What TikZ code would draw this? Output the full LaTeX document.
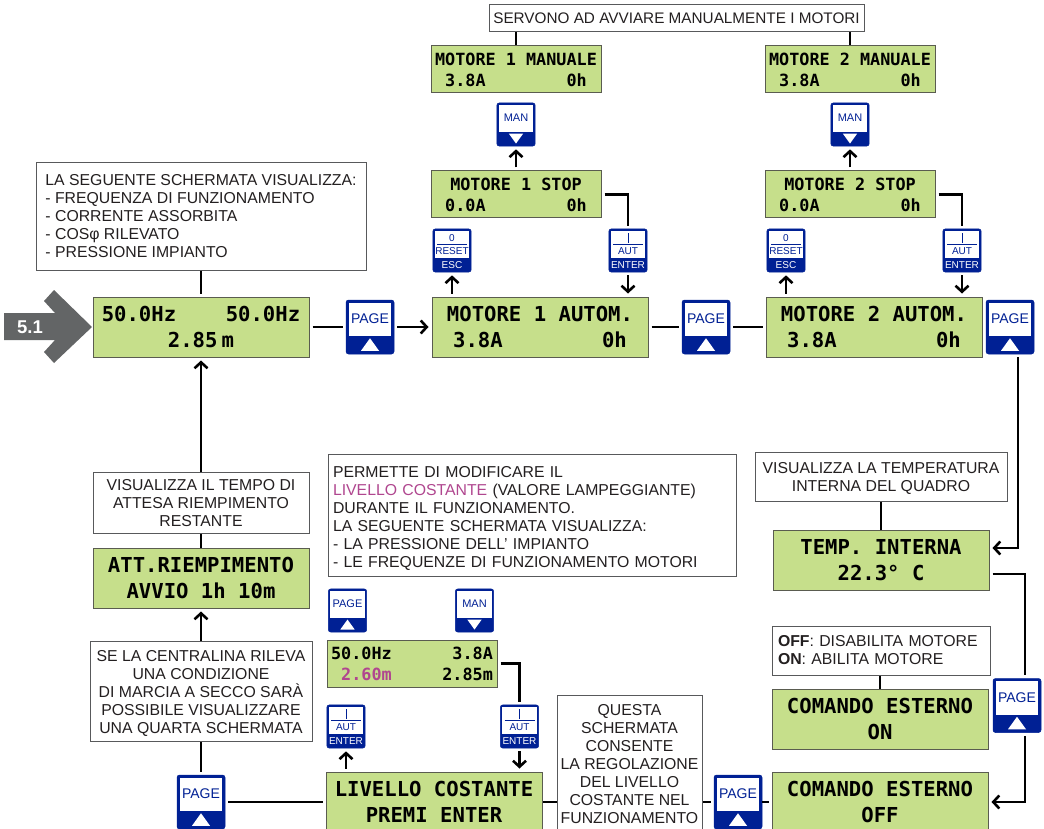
\documentclass[tikz,border=0pt]{standalone}
\usepackage{fontspec}
\setmainfont{Liberation Sans}
\newfontfamily\lcdfont{DejaVu Sans Mono}
\usetikzlibrary{arrows.meta,calc,positioning}
\definecolor{lcdgreen}{HTML}{C6DF8B}
\definecolor{lcdedge}{HTML}{5A5C50}
\definecolor{keyblue}{HTML}{002094}
\definecolor{boxedge}{HTML}{58595B}
\definecolor{notecol}{HTML}{231F20}
\definecolor{levelcol}{HTML}{B0468F}
\definecolor{entrygrey}{HTML}{636566}
\tikzset{
	>={Straight Barb[length=6pt,width=13pt]},
	lcdbox/.style={draw=lcdedge,line width=1pt,fill=lcdgreen,inner sep=0pt,align=center,text=black},
	lcdlarge/.style={lcdbox,minimum width=216pt,minimum height=60pt,font=\lcdfont\bfseries\fontsize{20.6}{26}\selectfont},
	lcdsmall/.style={lcdbox,minimum width=170pt,minimum height=47pt,font=\lcdfont\bfseries\fontsize{16.8}{21}\selectfont},
	notebox/.style={draw=boxedge,line width=1pt,fill=white,inner sep=0pt,text=notecol,font=\fontsize{15.8}{18}\selectfont},
	keybody/.style={draw=keyblue,fill=keyblue,rounded corners=2.5pt,inner sep=0pt,line width=.5pt},
	link/.style={line width=2.6pt,shorten <=3pt,shorten >=3pt},
	keytext/.style={inner sep=0pt,text=keyblue},
}
% key: name, centre, scale, then what is printed on it
\newcommand{\keyface}[3]{
	\node[keybody,minimum width=#3*48pt,minimum height=#3*54pt] (#1) at (#2) {};
	\fill[white] ($(#1.north west)+(#3*3pt,-#3*3pt)$) rectangle ($(#1.east)+(-#3*3pt,#3*-9pt)$);
}
\newcommand{\keyup}[5]{
	\keyface{#1}{#2}{#3}
	\node[keytext,font=\fontsize{#5}{#5}\selectfont] (#1lab) at ($(#1)+(0,#3*8pt)$) {#4};
	\fill[white] ($(#1.south)+(-#3*9pt,#3*3.500pt)$) -- ($(#1.south)+(#3*9pt,#3*3.500pt)$) -- ($(#1.south)+(0,#3*16pt)$) -- cycle;
}
\newcommand{\keydown}[5]{
	\keyface{#1}{#2}{#3}
	\node[keytext,font=\fontsize{#5}{#5}\selectfont] (#1lab) at ($(#1)+(0,#3*8pt)$) {#4};
	\fill[white] ($(#1.south)+(-#3*9pt,#3*16pt)$) -- ($(#1.south)+(#3*9pt,#3*16pt)$) -- ($(#1.south)+(0,#3*3.500pt)$) -- cycle;
}
\newcommand{\keybar}[5]{
	\keyface{#1}{#2}{.8}
	\draw[keyblue,line width=.7pt] ($(#1)+(-15pt,6.500pt)$) -- ($(#1)+(15pt,6.500pt)$);
	\node[keytext,font=\fontsize{10}{10}\selectfont] (#1top) at ($(#1)+(0,12.500pt)$) {#3};
	\node[keytext,font=\fontsize{10}{10}\selectfont] (#1mid) at ($(#1)+(0,-1pt)$) {#4};
	\node[keytext,text=white,font=\fontsize{10}{10}\selectfont] (#1bot) at ($(#1)+(0,-15pt)$) {#5};
}
\begin{document}
\begin{tikzpicture}[x=1pt,y=-1pt]
	\clip (0,0) rectangle (1044,829);
	% entry arrow
	\fill[entrygrey] (4,313) -- (55,313) -- (44,301) -- (54,290) -- (92,327) -- (54,363) -- (44,352) -- (55,340) -- (4,340) -- cycle;
	\node[text=white,font=\bfseries\fontsize{18.500}{18.500}\selectfont,inner sep=0pt] (entry) at (30,327) {5.1};
	% displays
	\node[lcdlarge] (main) at (201,327) {50.0Hz~~~~50.0Hz\\2.85\hspace{.2em}m};
	\node[lcdlarge] (autoA) at (540,327) {MOTORE 1 AUTOM.\\3.8A~~~~~~~~0h};
	\node[lcdlarge] (autoB) at (874,327) {MOTORE 2 AUTOM.\\3.8A~~~~~~~~0h};
	\node[lcdsmall] (stopA) at (516,194.500) {MOTORE 1 STOP\\0.0A~~~~~~~~0h};
	\node[lcdsmall] (stopB) at (850,194.500) {MOTORE 2 STOP\\0.0A~~~~~~~~0h};
	\node[lcdsmall] (manA) at (516,69.500) {MOTORE 1 MANUALE\\3.8A~~~~~~~~0h};
	\node[lcdsmall] (manB) at (850,69.500) {MOTORE 2 MANUALE\\3.8A~~~~~~~~0h};
	\node[lcdlarge] (temp) at (881,560.500) {TEMP. INTERNA\\22.3° C};
	\node[lcdlarge] (extOn) at (880,719) {COMANDO ESTERNO\\ON};
	\node[lcdlarge] (extOff) at (880,802) {COMANDO ESTERNO\\OFF};
	\node[lcdlarge] (level) at (434,802) {LIVELLO COSTANTE\\PREMI ENTER};
	\node[lcdlarge] (wait) at (201,578) {ATT.RIEMPIMENTO\\AVVIO 1h 10m};
	\node[lcdsmall] (live) at (412,663.500) {50.0Hz~~~~~~3.8A\\{\color{levelcol}~2.60m}~~~~~2.85m};
	% notes
	\node[notebox,minimum width=330pt,minimum height=107pt,align=left] (noteMain) at (201,216.500) {LA SEGUENTE SCHERMATA VISUALIZZA:\\- FREQUENZA DI FUNZIONAMENTO\\- CORRENTE ASSORBITA\\- COSφ RILEVATO\\- PRESSIONE IMPIANTO};
	\node[notebox,minimum width=375pt,minimum height=27pt,font=\fontsize{15.300}{18}\selectfont] (noteMan) at (676.500,18.500) {SERVONO AD AVVIARE MANUALMENTE I MOTORI};
	\node[notebox,minimum width=252pt,minimum height=49pt,align=center] (noteTemp) at (881,476.500) {\rule{0pt}{15pt}VISUALIZZA LA TEMPERATURA\\INTERNA DEL QUADRO};
	\node[notebox,minimum height=49pt,align=left,text width=206pt,inner xsep=6pt] (noteExt) at (881,650.500) {\textbf{OFF}: DISABILITA MOTORE\\\textbf{ON}: ABILITA MOTORE};
	\node[notebox,minimum height=122pt,align=left,text width=398pt,inner xsep=5pt] (noteLevel) at (532,515) {\rule{0pt}{18pt}PERMETTE DI MODIFICARE IL\\{\color{levelcol}LIVELLO COSTANTE} (VALORE LAMPEGGIANTE)\\DURANTE IL FUNZIONAMENTO.\\LA SEGUENTE SCHERMATA VISUALIZZA:\\- LA PRESSIONE DELL’ IMPIANTO\\- LE FREQUENZE DI FUNZIONAMENTO MOTORI};
	\node[notebox,minimum width=145pt,inner ysep=9pt,align=center,anchor=north] (noteAdj) at (629.500,695) {QUESTA\\SCHERMATA\\CONSENTE\\LA REGOLAZIONE\\DEL LIVELLO\\COSTANTE NEL\\FUNZIONAMENTO};
	\node[notebox,minimum width=222pt,minimum height=100pt,align=center] (noteDry) at (201,691) {\rule{0pt}{15pt}SE LA CENTRALINA RILEVA\\UNA CONDIZIONE\\DI MARCIA A SECCO SARÀ\\POSSIBILE VISUALIZZARE\\UNA QUARTA SCHERMATA};
	\node[notebox,minimum width=216pt,minimum height=61pt,align=center] (noteWait) at (201,503) {VISUALIZZA IL TEMPO DI\\ATTESA RIEMPIMENTO\\RESTANTE};
	% keys
	\keyup{pageA}{370,327}{1}{PAGE}{14}
	\keyup{pageB}{706,327}{1}{PAGE}{14}
	\keyup{pageC}{1010,327}{1}{PAGE}{14}
	\keyup{pageD}{1017,705.500}{1}{PAGE}{14}
	\keyup{pageE}{738,802}{1}{PAGE}{14}
	\keyup{pageF}{201,802}{1}{PAGE}{14}
	\keyup{pageG}{347.500,610.500}{.8}{PAGE}{11}
	\keydown{keyManA}{516,124.500}{.8}{MAN}{11}
	\keydown{keyManB}{850,124.500}{.8}{MAN}{11}
	\keydown{keyManC}{474.500,610.500}{.8}{MAN}{11}
	\keybar{resetA}{452,250.500}{0}{RESET}{ESC}
	\keybar{resetB}{786,250.500}{0}{RESET}{ESC}
	\keybar{autA}{628,250.500}{\rule{.8pt}{10pt}}{AUT}{ENTER}
	\keybar{autB}{962,250.500}{\rule{.8pt}{10pt}}{AUT}{ENTER}
	\keybar{autC}{346,726.500}{\rule{.8pt}{10pt}}{AUT}{ENTER}
	\keybar{autD}{519.500,726.500}{\rule{.8pt}{10pt}}{AUT}{ENTER}
	% connectors
	\draw[link,shorten <=0pt] (noteMain.south) -- (main.north);
	\draw[link] (main.east) -- (pageA.west);
	\draw[link,->] (pageA.east) -- (autoA.west);
	\draw[link] (autoA.east) -- (pageB.west);
	\draw[link] (pageB.east) -- (autoB.west);
	\draw[link,shorten <=0pt,shorten >=0pt] (noteMan.south -| manA.north) -- (manA.north);
	\draw[link,shorten <=0pt,shorten >=0pt] (noteMan.south -| manB.north) -- (manB.north);
	\draw[link,->] (stopA.north) -- (keyManA.south);
	\draw[link,->] (stopB.north) -- (keyManB.south);
	\draw[link,->] (autoA.north -| resetA.south) -- (resetA.south);
	\draw[link,->] (autoB.north -| resetB.south) -- (resetB.south);
	\draw[link] (stopA.east) -| (autA.north);
	\draw[link] (stopB.east) -| (autB.north);
	\draw[link,->] (autA.south) -- (autoA.north -| autA.south);
	\draw[link,->] (autB.south) -- (autoB.north -| autB.south);
	\coordinate (railTemp) at (1018,548);
	\draw[link,->] (pageC.south -| railTemp) -- (railTemp) -- (temp.east |- railTemp);
	\draw[link,shorten <=0pt,shorten >=0pt] (noteTemp.south) -- (temp.north);
	\coordinate (railOut) at (1025,574);
	\draw[link] (temp.east |- railOut) -- (railOut) -- (pageD.north -| railOut);
	\draw[link,shorten <=0pt,shorten >=0pt] (noteExt.south -| extOn.north) -- (extOn.north);
	\draw[link,->] (pageD.south -| railOut) |- (extOff.east);
	\draw[link,shorten >=0pt] (extOff.west) -- (pageE.east);
	\draw[link,shorten <=0pt,shorten >=0pt] (noteAdj.west |- level.east) -- (level.east);
	\draw[link,shorten >=0pt] (pageE.west) -- (noteAdj.east |- pageE.west);
	\draw[link] (level.west) -- (pageF.east);
	\draw[link,->] (level.north -| autC.south) -- (autC.south);
	\draw[link] (live.east) -| (autD.north);
	\draw[link,->] (autD.south) -- (level.north -| autD.south);
	\draw[link,shorten >=0pt] (pageF.north) -- (noteDry.south);
	\draw[link,->,shorten <=0pt] (noteDry.north) -- (wait.south);
	\draw[link,shorten <=0pt,shorten >=0pt] (wait.north) -- (noteWait.south);
	\draw[link,->,shorten <=0pt] (noteWait.north) -- (main.south);
\end{tikzpicture}
\end{document}
